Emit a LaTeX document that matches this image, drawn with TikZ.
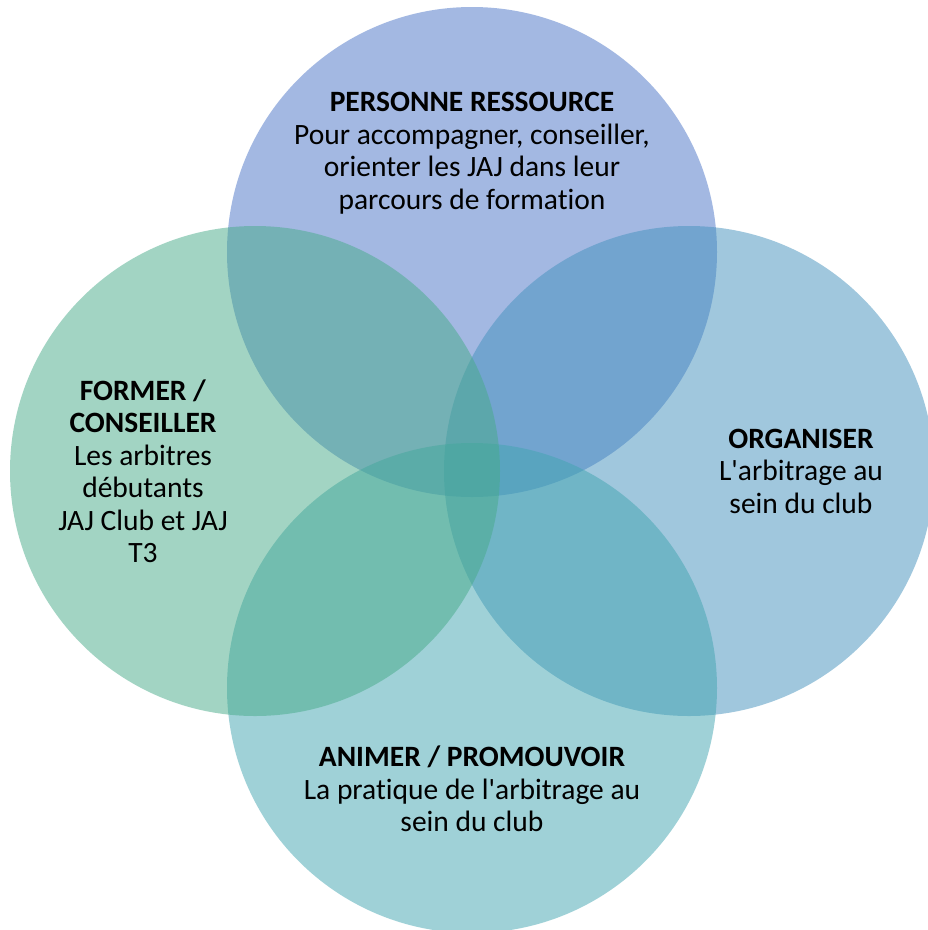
\documentclass[tikz,border=0pt]{standalone}
\usepackage{fontspec}
\setmainfont{Carlito}[Ligatures={TeXOff,NoCommon}]
\definecolor{ctop}{RGB}{73,115,199}
\definecolor{cleft}{RGB}{71,171,137}
\definecolor{cright}{RGB}{67,145,189}
\definecolor{cbot}{RGB}{65,165,177}
\tikzset{
  venn/.style={fill opacity=0.5, draw=none},
  lbl/.style={align=center, text=black, font=\fontsize{29.5}{32.5}\selectfont, inner sep=0pt}
}
\begin{document}
\begin{tikzpicture}[x=1pt,y=-1pt]
\useasboundingbox (0,0) rectangle (928,930);
\fill[white] (0,0) rectangle (928,930);
\path[venn, fill=ctop] (472,252) circle[radius=245];
\path[venn, fill=cright] (689,471) circle[radius=245];
\path[venn, fill=cbot] (472,688) circle[radius=245];
\path[venn, fill=cleft] (255,471) circle[radius=245];
\node[lbl] (t) at (472,153) {\textbf{PERSONNE RESSOURCE}\\Pour accompagner, conseiller,\\orienter les JAJ dans leur\\parcours de formation};
\node[lbl] (l) at (143,471) {\textbf{FORMER /}\\\textbf{CONSEILLER}\\Les arbitres\\débutants\\JAJ Club et JAJ\\T3};
\node[lbl] (r) at (801,471) {\textbf{ORGANISER}\\L'arbitrage au\\sein du club};
\node[lbl] (b) at (472,789) {\textbf{ANIMER / PROMOUVOIR}\\La pratique de l'arbitrage au\\sein du club};
\end{tikzpicture}
\end{document}
